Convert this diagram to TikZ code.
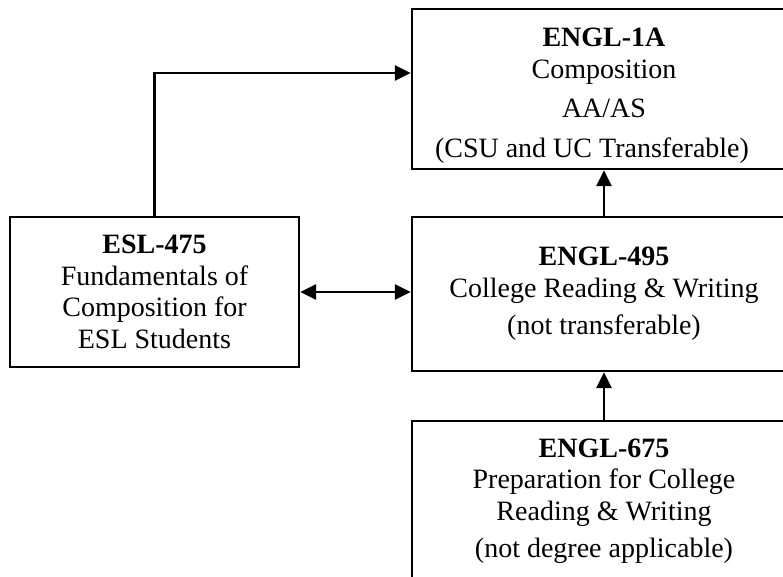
\documentclass[tikz,border=0pt]{standalone}
\usepackage{fontspec}
\setmainfont{Liberation Serif}
\usetikzlibrary{arrows.meta, positioning, calc}

\newcommand{\toppad}[1]{\rule{0pt}{#1}}

\tikzset{
  >={Triangle[length=16pt, width=15pt]},
  course/.style={draw, line width=2.4pt, rectangle, inner sep=0pt, align=center,
    font=\fontsize{28}{31.5}\selectfont},
  link/.style={line width=2.6pt, ->},
}

\begin{document}
\begin{tikzpicture}[x=1pt, y=-1pt]
        \useasboundingbox (0,0) rectangle (783,576);
        \clip (0,0) rectangle (783,576);

        % Course boxes
        \node[course, minimum width=384pt, minimum height=160pt] (engla) at (604,89)
            {\toppad{32pt}\textbf{ENGL-1A}\\ Composition\\[8pt] AA/AS\\[8pt] (CSU and UC Transferable)\hspace*{24pt}};
        \node[course, minimum width=384pt, minimum height=154pt] (engl495) at (604,294)
            {\textbf{ENGL-495}\\ College Reading \& Writing\\[6pt] (not transferable)};
        \node[course, minimum width=384pt, minimum height=160pt] (engl675) at (604,501)
            {\textbf{ENGL-675}\\ Preparation for College\\ Reading \& Writing\\[6pt] (not degree applicable)};
        \node[course, minimum width=289pt, minimum height=150pt] (esl) at (154.5,292)
            {\textbf{ESL-475}\\ Fundamentals of\\ Composition for\\ ESL Students};

        % Prerequisite arrows
        \draw[link] (engl495.north) -- (engla.south);
        \draw[link] (engl675.north) -- (engl495.south);
        \draw[link] (esl.north) |- ([yshift=16pt]engla.west);
        \draw[link, <->] (esl.east) -- (esl.east -| engl495.west);

    \end{tikzpicture}
\end{document}
